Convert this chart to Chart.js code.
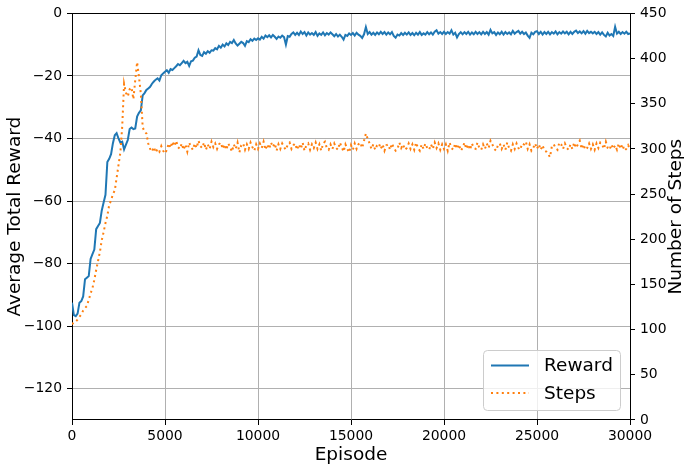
<!DOCTYPE html>
<html>
<head>
<meta charset="utf-8">
<title>Training curve</title>
<script src="https://cdn.jsdelivr.net/npm/chart.js@4/dist/chart.umd.min.js"></script>
<style>
  html, body { margin: 0; padding: 0; background: #fff; }
  #wrap { width: 684px; height: 468px; }
</style>
</head>
<body>
<div id="wrap"><canvas id="trainChart" width="684" height="468"></canvas></div>
<script>
// average total reward, one value every 100 episodes
var reward = [
  -92.5, -96.5, -96.8, -96, -92.5, -92, -90.5, -85, -84.5, -84,
  -78.5, -77, -75.5, -69, -68, -67, -63, -60.5, -58, -47.5,
  -46.5, -45, -41.5, -39, -38.3, -40, -41.3, -41, -43.5, -42,
  -40.5, -37, -36.5, -37, -36.8, -33, -31.8, -31, -26.2, -25.5,
  -24.5, -24, -23.5, -22.5, -21.8, -21.2, -20.8, -21.5, -19.8, -19.2,
  -18.7, -18.2, -19, -17.8, -18.1, -17.5, -16.9, -16.2, -16.6, -15.9,
  -15.2, -15.9, -15.5, -16.8, -15.3, -15.1, -14.2, -13.8, -11.8, -13.3,
  -13.6, -12.4, -12.9, -12.1, -12.6, -11.8, -11.9, -11.1, -11.5, -10.4,
  -11, -10, -10.6, -9.6, -10.1, -9.1, -9.5, -8.5, -9.6, -10.3,
  -9.7, -9.1, -9.5, -10.4, -8.9, -9.2, -8.3, -8.8, -8.1, -8.5,
  -8, -8.4, -7.5, -8.1, -7.1, -7.6, -7, -7.7, -6.9, -7.5,
  -8.2, -7.4, -7.8, -7.1, -7.6, -10, -7.3, -7.5, -6.6, -6.1,
  -6.9, -6.2, -6.9, -5.8, -6.6, -6, -7.1, -6.1, -6.8, -6.3,
  -6.9, -6, -7.2, -6.4, -6.9, -6.1, -7, -6.3, -6.8, -6.1,
  -6.7, -7.3, -6.6, -7.4, -6.8, -7.5, -8.4, -6.9, -7.2, -6.4,
  -6.9, -6.3, -7.1, -6.2, -6.8, -7.2, -7.9, -6.7, -4.4, -6.6,
  -6, -6.8, -6.2, -6.9, -6.1, -6.7, -5.9, -6.6, -6, -6.8,
  -6.1, -6.7, -6, -7.2, -7.8, -6.8, -7.1, -6.3, -6.9, -6.2,
  -6.8, -6.1, -6.9, -6.3, -7, -6.2, -6.8, -6, -6.9, -6.4,
  -6.8, -6, -6.7, -6.1, -6.8, -5.9, -5.4, -6.5, -6, -6.6,
  -5.9, -6.6, -6, -6.5, -5.4, -6.8, -6.2, -7.7, -6.6, -6,
  -6.7, -6, -6.6, -5.9, -6.8, -6.1, -6.7, -5.9, -6.6, -6,
  -6.7, -5.9, -6.6, -6, -6.8, -5.3, -6.4, -6, -6.9, -6.1,
  -6.7, -5.9, -6.8, -6, -6.6, -6.1, -6.7, -5.6, -6.5, -6,
  -5.6, -6.5, -5.9, -6.6, -6.1, -7.1, -7.8, -6.2, -6.7, -5.9,
  -5.7, -6.6, -5.9, -6.8, -6, -6.6, -5.9, -6.7, -6, -6.5,
  -5.8, -6.7, -6, -6.5, -5.8, -6.4, -5.9, -6.7, -5.9, -6.6,
  -5.9, -5.5, -6.3, -5.8, -6.4, -5.7, -6.5, -5.6, -6.3, -5.9,
  -6.4, -5.9, -6.6, -6, -6.8, -6.1, -6.9, -7.4, -6.2, -7.1,
  -6.6, -7.2, -4.3, -6.5, -5.9, -6.6, -6, -6.5, -5.9, -6.6,
  -6.4
]

// number of steps per episode, same sampling
var steps = [
  106, 108, 109, 111, 114, 117, 121, 124, 126, 133,
  140, 146, 155, 166, 176, 186, 199, 208, 218, 226,
  238, 243, 250, 254, 268, 282, 296, 325, 372, 362,
  358, 366, 368, 355, 376, 396, 380, 361, 324, 319,
  317, 306, 300, 297, 302, 296, 300, 297, 303, 298,
  295, 299, 306, 301, 308, 303, 309, 302, 300, 306,
  299, 305, 297, 307, 302, 299, 306, 301, 309, 303,
  301, 307, 299, 305, 300, 308, 302, 306, 300, 305,
  307, 300, 305, 299, 306, 302, 297, 305, 300, 307,
  296, 304, 306, 299, 305, 300, 307, 302, 298, 305,
  300, 306, 301, 308, 299, 305, 300, 307, 302, 306,
  298, 305, 300, 306, 302, 299, 305, 307, 300, 304,
  306, 299, 305, 300, 307, 298, 304, 306, 299, 305,
  301, 307, 300, 305, 298, 306, 308, 301, 299, 305,
  300, 306, 301, 299, 307, 302, 297, 305, 300, 296,
  304, 299, 306, 300, 305, 307, 301, 309, 317, 311,
  306, 300, 305, 299, 304, 306, 300, 305, 298, 304,
  305, 299, 306, 301, 298, 300, 307, 301, 305, 299,
  301, 306, 300, 305, 299, 307, 301, 298, 305, 300,
  306, 301, 299, 305, 300, 307, 301, 306, 299, 305,
  300, 305, 298, 307, 301, 299, 306, 300, 305, 298,
  301, 307, 300, 305, 299, 306, 301, 300, 307, 301,
  299, 305, 300, 306, 301, 309, 305, 300, 298, 304,
  306, 300, 305, 299, 307, 301, 298, 305, 300, 306,
  301, 299, 306, 305, 308, 300, 305, 298, 301, 306,
  300, 305, 299, 304, 298, 297, 294, 291, 303, 305,
  301, 299, 307, 305, 300, 306, 301, 299, 305, 300,
  307, 301, 305, 309, 300, 305, 299, 301, 306, 300,
  305, 299, 306, 301, 307, 305, 300, 308, 301, 299,
  305, 300, 304, 299, 306, 300, 305, 298, 300, 304,
  300
]

var episodes = reward.map((_, i) => i * 100)

var xTicks = [0, 5000, 10000, 15000, 20000, 25000, 30000]
var rewardTicks = [-120, -100, -80, -60, -40, -20, 0]
var stepTicks = [0, 50, 100, 150, 200, 250, 300, 350, 400, 450]

var blue = "#1f77b4"
var orange = "#ff7f0e"
var fontFam = "'DejaVu Sans', sans-serif"
var tickFont = { family: fontFam, size: 13.9 }
var labelPx = 18.5

Chart.defaults.font.family = fontFam
Chart.defaults.color = "#000"

function fixTicks(list) {
    return function (scale) {
        scale.ticks = list.map(v => ({ value: v }))
    }
}

function minus(v) {
    return String(v).replace("-", "\u2212")
}

// axis titles, top spine and legend, drawn matplotlib-style
var decorations = {
    id: "decorations",
    afterDatasetsDraw(chart) {
        var ctx = chart.ctx
        var a = chart.chartArea
        ctx.save()

        // legend box in lower right corner
        var bx = 483.5, by = 350.5, bw = 137, bh = 60, r = 4
        ctx.beginPath()
        ctx.roundRect(bx, by, bw, bh, r)
        ctx.fillStyle = "rgba(255,255,255,0.8)"
        ctx.fill()
        ctx.strokeStyle = "#cccccc"
        ctx.lineWidth = 1
        ctx.stroke()

        ctx.font = labelPx + "px " + fontFam
        ctx.textBaseline = "middle"
        ctx.textAlign = "left"
        chart.data.datasets.forEach((ds, i) => {
            var ly = 365.5 + i * 27.5
            ctx.beginPath()
            ctx.setLineDash(ds.borderDash || [])
            ctx.lineWidth = ds.borderWidth
            ctx.strokeStyle = ds.borderColor
            ctx.moveTo(491, ly)
            ctx.lineTo(529, ly)
            ctx.stroke()
            ctx.setLineDash([])
            ctx.fillStyle = "#000"
            ctx.fillText(ds.label, 544, ly + 1)
        })

        // top spine
        ctx.strokeStyle = "#000"
        ctx.lineWidth = 1
        ctx.beginPath()
        ctx.moveTo(a.left, Math.round(a.top) + 0.5)
        ctx.lineTo(a.right, Math.round(a.top) + 0.5)
        ctx.stroke()

        // axis titles
        ctx.fillStyle = "#000"
        ctx.textAlign = "center"
        ctx.textBaseline = "middle"
        ctx.fillText("Episode", (a.left + a.right) / 2, 455)

        var midY = (a.top + a.bottom) / 2
        ctx.translate(15.5, midY)
        ctx.rotate(-Math.PI / 2)
        ctx.fillText("Average Total Reward", 0, 0)
        ctx.rotate(Math.PI / 2)
        ctx.translate(-15.5, -midY)

        ctx.translate(676, midY)
        ctx.rotate(-Math.PI / 2)
        ctx.fillText("Number of Steps", 0, 0)
        ctx.restore()
    }
}

new Chart("trainChart", {
    type: "line",
    data: {
        datasets: [{
            label: "Reward",
            data: episodes.map((e, i) => ({ x: e, y: reward[i] })),
            yAxisID: "y",
            borderColor: blue,
            borderWidth: 2,
            pointRadius: 0,
            tension: 0,
            fill: false,
            order: 1
        }, {
            label: "Steps",
            data: episodes.map((e, i) => ({ x: e, y: steps[i] })),
            yAxisID: "y1",
            borderColor: orange,
            borderWidth: 2,
            borderDash: [2, 3.4],
            pointRadius: 0,
            tension: 0,
            fill: false,
            order: 0
        }]
    },
    options: {
        responsive: false,
        animation: false,
        layout: { padding: { top: 13, left: 0, right: 0, bottom: 0 } },
        plugins: {
            legend: { display: false },
            tooltip: { enabled: false }
        },
        scales: {
            x: {
                type: "linear",
                min: 0,
                max: 30000,
                afterBuildTicks: fixTicks(xTicks),
                afterFit: s => { s.height = 48 },
                ticks: { font: tickFont, padding: 3, maxRotation: 0, callback: v => String(v) },
                grid: { color: "#b0b0b0", lineWidth: 1, tickColor: "#000", tickLength: 5 },
                border: { color: "#000", width: 1 }
            },
            y: {
                position: "left",
                min: -130,
                max: 0,
                afterBuildTicks: fixTicks(rewardTicks),
                afterFit: s => { s.width = 72 },
                ticks: { font: tickFont, padding: 5, callback: v => minus(v) },
                grid: { color: "#b0b0b0", lineWidth: 1, tickColor: "#000", tickLength: 5 },
                border: { color: "#000", width: 1 }
            },
            y1: {
                position: "right",
                min: 0,
                max: 450,
                afterBuildTicks: fixTicks(stepTicks),
                afterFit: s => { s.width = 54 },
                ticks: { font: tickFont, padding: 5 },
                grid: { drawOnChartArea: false, tickColor: "#000", tickLength: 5 },
                border: { color: "#000", width: 1 }
            }
        }
    },
    plugins: [decorations]
})
</script>
</body>
</html>
